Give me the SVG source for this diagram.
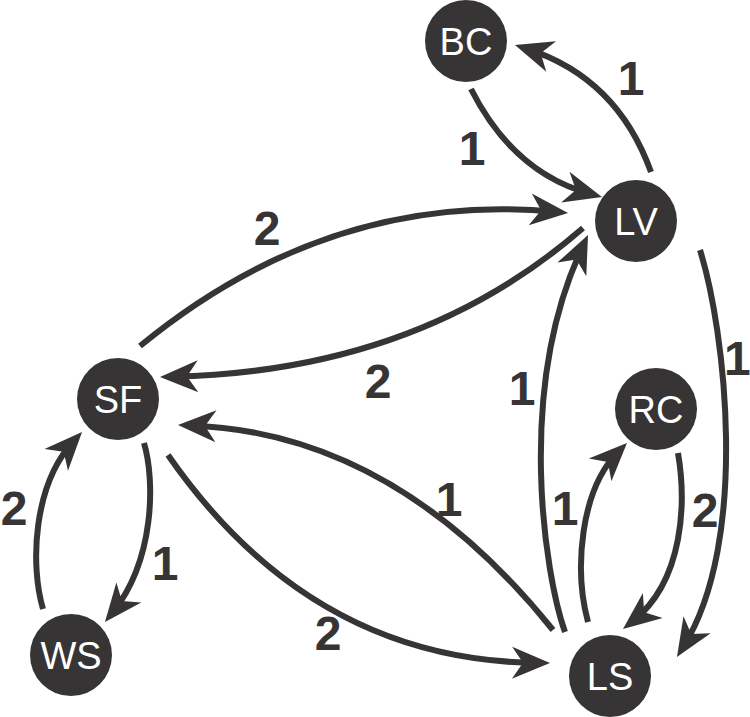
<svg xmlns="http://www.w3.org/2000/svg" width="750" height="717" viewBox="0 0 750 717">
<style>
.node circle{fill:#373435}
.node text{fill:#ffffff;font-family:"Liberation Sans",Arial,sans-serif;font-size:38px;text-anchor:middle}
.edge{fill:none;stroke:#373435;stroke-width:6;marker-end:url(#arr)}
.lbl{fill:#373435;font-family:"Liberation Sans",Arial,sans-serif;font-size:48px;font-weight:bold;text-anchor:middle}
</style>
<defs>
<marker id="arr" markerUnits="userSpaceOnUse" markerWidth="80" markerHeight="80" refX="0" refY="0" orient="auto" overflow="visible" viewBox="-40 -40 80 80">
<path d="M12,0 L-26,-16 L-15,0 L-26,16 Z" fill="#373435"/>
</marker>
</defs>
<rect width="750" height="717" fill="#ffffff"/>
<g id="connectors">
<path class="edge" d="M651,172 Q617,77.5 526.4,48.6"/>
<path class="edge" d="M471,89 Q513.5,173 590.4,193.9"/>
<path class="edge" d="M140,346 Q330,190 556.1,211.8"/>
<path class="edge" d="M583,228 Q418.5,371.5 172,376.7"/>
<path class="edge" d="M553,630 Q394.5,432.5 190,425.4"/>
<path class="edge" d="M168,455 Q311,661 538,662.9"/>
<path class="edge" d="M565,632 C545,575 515,390 582.9,245.9"/>
<path class="edge" d="M700,250 C725,330 750,540 683.3,646.8"/>
<path class="edge" d="M588,622 C574,570 580,490 618.5,451.5"/>
<path class="edge" d="M678,453 C686,500 685,580 632.4,621.6"/>
<path class="edge" d="M144,443 C155,480 155,560 112.5,612.7"/>
<path class="edge" d="M43,609 C30,565 33,485 73.9,440.8"/>
</g>
<g id="labels">
<text class="lbl" x="631" y="95">1</text>
<text class="lbl" x="472" y="165">1</text>
<text class="lbl" x="267" y="245">2</text>
<text class="lbl" x="378" y="398">2</text>
<text class="lbl" x="522" y="405">1</text>
<text class="lbl" x="449" y="516">1</text>
<text class="lbl" x="328" y="650">2</text>
<text class="lbl" x="165" y="580">1</text>
<text class="lbl" x="14" y="525">2</text>
<text class="lbl" x="565" y="525">1</text>
<text class="lbl" x="705" y="527">2</text>
<text class="lbl" x="724" y="375" style="text-anchor:start">1</text>
</g>
<g id="BC" class="node"><circle cx="466" cy="41" r="41"/><text x="466" y="55">BC</text></g>
<g id="LV" class="node"><circle cx="636" cy="221" r="41"/><text x="636" y="235">LV</text></g>
<g id="SF" class="node"><circle cx="118" cy="399" r="41"/><text x="118" y="413">SF</text></g>
<g id="RC" class="node"><circle cx="656" cy="409" r="41"/><text x="656" y="423">RC</text></g>
<g id="WS" class="node"><circle cx="71" cy="655" r="41"/><text x="71" y="669">WS</text></g>
<g id="LS" class="node"><circle cx="610" cy="676" r="41"/><text x="610" y="690">LS</text></g>
</svg>
